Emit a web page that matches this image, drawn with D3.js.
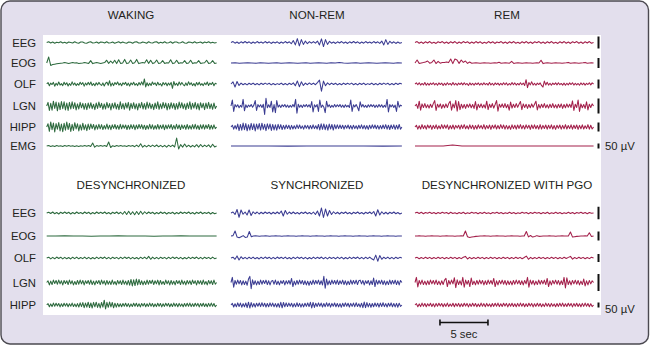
<!DOCTYPE html>
<html>
<head>
<meta charset="utf-8">
<script src="https://cdn.jsdelivr.net/npm/d3@7"></script>
<style>
  html, body { margin: 0; padding: 0; background: #ffffff; }
  svg { display: block; }
  text { font-family: "Liberation Sans", Arial, Helvetica, sans-serif; fill: #231f20; }
</style>
</head>
<body>
<svg id="chart" width="650" height="346"></svg>
<script>
// ---- Recording states (column titles) ----
const topStates = ["WAKING", "NON-REM", "REM"];
const bottomStates = ["DESYNCHRONIZED", "SYNCHRONIZED", "DESYNCHRONIZED WITH PGO"];
const topChannels = ["EEG", "EOG", "OLF", "LGN", "HIPP", "EMG"];
const bottomChannels = ["EEG", "EOG", "OLF", "LGN", "HIPP"];

// Seconds of recording shown in each column
const columnSeconds = [17.7, 17.8, 18.6];
// Calibration marks
const calibrationUV = 50;
const calibrationSec = 5;
const calibrationLabel = "50 \u00b5V";
const timeLabel = "5 sec";

// ---- Traces, in microvolts, evenly sampled across each column ----
// Waking
const wakingEEG = [0,3,-2,2,-3,1,-1,3,-2,1,-3,2,0,-2,3,-1,-3,2,2,-2,-3,1,3,-2,-1,2,-3,2,1,-2,3,-2,-1,2,-3,0,3,-2,2,-1,-3,2,1,-3,2,3,-2,-2,2,0,-3,3,-1,-2,2,3,-3,1,-2,3,-2,-1,3,-3,2,2,-2,-1,3,-2,-3,2,1,-2,3,-2,0,2,-3,2,-1,3,-2,1,-2,0];
const wakingEOG = [0,30,-12,-8,-6,-4,-2,-1,0,2,0,-2,0,2,0,1,-2,-1,0,2,0,-2,12,-3,0,2,0,-2,0,2,14,-2,10,-1,14,-3,16,-2,0,18,-3,0,15,-2,1,18,-3,0,2,0,16,-2,14,-3,1,15,-2,0,12,-2,1,0,16,-3,0,14,-2,1,0,12,-2,0,14,-3,1,0,12,-2,0,1,14,-2,0,12,-2,0];
const wakingOLF = [0,8,-10,5,-3,9,-12,4,-7,11,-6,2,-9,10,-4,7,-11,3,-8,12,-5,6,-9,2,-7,10,-3,8,-12,5,-6,9,-4,11,-8,3,-10,7,-5,9,-2,-8,6,-11,4,10,-7,18,-12,5,-9,8,-3,11,-6,4,-10,7,-2,9,-8,5,-11,6,-4,10,-7,3,-9,8,-5,12,-6,28,-16,7,-10,4,-8,11,-3,6,-9,10,-5,2,-11,8,-4,7,-10,5,-6,9,-24,14,-7,4,-9,11,-5,8,-3,-10,6,-8,12,-4,7,-9,3,-11,8,-5,10,-7,2,-9,6,-4,11,-8,5,-3,9,-10,4,0];
const wakingLGN = [0,12,-15,9,-14,16,-8,13,-16,11,-12,15,-9,14,-13,10,-15,12,-10,14,-8,11,-13,7,-10,12,-6,9,-11,8,-12,10,-7,11,-9,6,-12,10,-8,13,-5,9,-11,7,-10,12,-6,8,-13,9,-7,11,-10,6,-12,14,-9,8,-11,10,-7,12,-14,9,-8,11,-10,7,-13,9,-6,12,-10,8,-11,13,-7,10,-9,6,-12,10,-8,14,-11,7,-9,12,-6,10,-13,8,-10,11,-7,9,-12,8,-10,13,-6,11,-9,7,-12,10,-8,14,-11,9,-7,12,-10,8,-13,11,-6,9,-12,10,-8,12,-9,7,-11,10,-8,0];
const wakingHIPP = [0,18,-24,28,-15,22,-27,19,-12,25,-22,16,-26,21,-18,27,-14,20,-25,15,-19,24,-11,18,-22,13,-17,21,-15,12,-20,16,-13,17,-9,14,-16,11,-12,15,-10,13,-14,8,-11,16,-12,10,-15,12,-8,14,-11,9,-13,15,-10,12,-7,11,-14,10,-12,13,-9,12,-15,11,-10,14,-8,13,-12,10,-14,9,-11,15,-10,12,-13,8,-11,14,-12,10,-9,13,-15,11,-10,12,-8,14,-13,9,-12,15,-10,11,-14,12,-9,10,-13,14,-11,8,-12,13,-10,15,-11,9,-14,12,-10,13,-12,11,-8,14,-13,10,-11,12,-9,0];
const wakingEMG = [0,5,-4,3,-5,4,-3,2,-4,5,-3,4,-2,3,-5,2,-4,3,-2,4,-3,5,-4,30,-12,4,-3,5,-2,4,-5,40,-15,3,-4,5,-2,4,-3,2,-5,4,-3,5,-7,9,-8,22,-12,7,-9,8,-6,9,-7,10,-8,6,-9,7,-11,8,-7,9,-10,80,-30,14,-11,20,-9,8,-10,7,-9,13,-11,15,-8,9,-7,11,-13,17,-9,0];

// Non-REM sleep
const nremEEG = [0,4,-3,2,-4,3,-2,4,-2,3,-4,2,-3,4,-2,2,-3,4,-2,3,-4,2,-2,3,-4,2,-3,4,-2,3,-5,8,-10,16,-14,12,-8,6,-5,4,-3,4,-3,6,-10,15,-17,12,-8,5,-3,2,-4,3,-2,4,-3,2,-4,3,-2,4,-2,3,-4,2,-3,4,-2,2,-3,4,-2,3,-4,6,-10,12,-8,5,-3,3,-4,2,-3,0];
const nremEOG = [0,1,-1,0,1,0,-1,1,0,-1,0,1,-1,0,1,0,-1,0,1,-1,0,1,0,-1,1,0,2,0,-1,0,1,-1,0,1,0,-1,0,1,0,-1,1,0];
const nremOLF = [0,12,-17,14,-8,5,-4,3,-5,4,-3,5,-4,3,-5,4,-3,5,-2,4,-5,3,-4,2,-3,5,-4,3,-5,4,-3,6,-10,17,-15,12,-8,5,-4,6,-3,5,-4,8,22,-40,16,-10,6,-4,5,-3,4,-5,3,-4,5,-3,4,-2,5,-4,3,-5,4,-3,5,-4,2,-3,5,-4,3,-5,4,-3,5,-2,4,-5,3,-4,5,-3,4,0];
const nremLGN = [0,20,-18,5,-3,4,-6,2,-4,22,-16,4,-5,3,-2,5,-4,3,18,-15,5,-3,4,-5,6,-28,26,-6,4,-5,16,-20,5,-22,18,-4,3,-5,4,-2,5,-4,3,-5,2,-4,5,-3,22,-24,6,-4,3,-5,4,-2,5,-3,4,-5,15,-20,4,-3,5,-18,20,-5,3,-4,-22,16,-3,4,-5,2,-4,5,-3,4,-2,5,-4,3,-5,4,-3,2,-5,20,-18,4,-3,5,-4,-16,14,-3,5,-4,2,-5,4,-3,5,-2,4,-5,3,-4,5,-3,4,-5,2,-4,22,-20,5,-3,4,-5,3,-18,16,-4,3,0];
const nremHIPP = [0,10,-12,8,-11,16,-20,14,-18,22,-15,19,-21,13,-17,20,-14,18,-22,16,-12,19,-17,21,-13,15,-20,18,-11,17,-19,14,-16,12,-18,15,-10,13,-14,9,-12,11,-8,10,-13,9,-11,7,-10,12,-8,11,-9,6,-12,10,-7,9,-11,8,-10,12,-9,7,-11,14,-16,18,-13,17,-15,12,-18,16,-11,14,-17,13,-10,12,-9,11,-8,10,-12,9,-7,11,-10,8,-12,10,-9,7,-11,10,-8,12,-10,9,-11,8,-13,10,-9,12,-7,11,-10,9,-12,8,-10,11,-9,13,-12,10,-14,11,-9,12,-13,10,-11,14,-12,0];
const nremEMG = [0,1,0,-1,0,1,0,0,-1,0];

// REM sleep
const remEEG = [0,4,-3,2,-4,3,-2,4,-3,1,-4,3,-1,4,-3,2,-4,3,-2,4,-4,2,-3,4,-1,3,-4,2,-3,4,-2,3,-4,1,-3,4,-2,3,-4,2,-1,4,-3,2,-4,3,-2,4,-3,1,-4,3,-2,4,-3,2,-4,3,-1,4,-3,2,-4,3,-2,4,-3,1,-4,3,-2,4,-3,2,-4,3,-1,4,-3,2,-4,3,-2,4,-3,0];
const remEOG = [0,15,-2,0,2,5,10,-1,3,15,-3,8,-1,2,3,5,2,20,-3,20,15,-2,15,3,10,-2,5,-1,0,1,0,-1,0,1,0,0,-1,0,1,0,4,-1,0,1,0,-1,8,-2,0,1,0,-1,0,1,0,0,-1,0,1,0,14,-3,0,1,0,-1,0,1,0,0,-1,0,1,3,-1,0,1,0,-1,0,1,3,-1,0,1,0];
const remOLF = [0,6,-4,7,-6,3,-5,8,-7,4,-6,5,-3,7,-5,4,-7,6,-3,5,-8,4,-6,7,-4,3,-6,8,-5,4,-7,5,-3,6,-5,7,-4,3,-8,6,-5,4,-7,5,-3,6,-6,4,-5,7,-4,3,-6,8,-5,4,-7,6,-3,5,-6,4,-5,7,-4,6,-7,3,-5,8,-4,6,-6,3,-5,7,-4,5,-8,24,-20,8,-5,12,-6,4,-7,5,-3,6,-8,-17,16,-5,10,-6,4,-7,5,-3,6,-5,7,-4,3,-6,5,-7,4,-5,6,-3,7,-6,4,-5,3,-7,6,-4,5,-6,4,-3,7,-5,6,0];
const remLGN = [0,6,-8,16,-14,7,-5,8,-6,4,-7,6,-5,8,18,-15,6,-4,7,-8,5,-6,7,-5,8,16,-14,7,-6,18,-17,15,-12,6,-7,5,-8,6,-4,7,-6,5,-8,15,-13,6,-5,7,-6,4,-7,16,-12,6,-5,8,-7,5,18,-17,6,-4,7,-5,8,-6,5,-14,13,-7,6,-5,8,-4,6,15,-12,7,-5,6,-8,5,-6,7,-4,6,16,-13,5,-7,6,-5,8,-6,4,-7,6,-5,8,-6,4,-7,6,-5,7,-8,5,-6,7,-4,6,-5,17,-15,6,-5,20,-18,7,-6,5,-8,14,-13,6,-5,7,0];
const remHIPP = [0,10,-12,7,-11,13,-9,8,-12,11,-6,10,-13,9,-8,12,-11,7,-10,13,-9,11,-7,12,-13,8,-10,11,-12,9,-6,10,-12,11,-8,13,-10,7,-11,12,-9,10,-13,8,-11,12,-7,9,-10,13,-12,8,-9,11,-13,10,-7,12,-11,9,-10,13,-8,11,-12,9,-11,7,-13,12,-9,10,-12,11,-8,13,-10,9,-11,12,-7,10,-13,11,-9,12,-10,8,-12,13,-11,9,-8,11,-12,10,-9,12,-11,8,-13,10,-7,11,-12,9,-10,13,-11,8,-9,12,-12,10,-8,11,-13,9,-10,12,-11,7,-9,13,-12,10,-11,0];
const remEMG = [0,0,0,0,10,0,0,0,0,0,0,0,0,0,0,0,0,0,0,0];

// Desynchronized
const desyncEEG = [0,3,-2,4,-3,2,-4,3,-2,4,-2,3,-4,2,-3,4,-2,2,-3,4,-2,3,-4,2,-3,4,-2,3,-2,4,-3,2,-4,3,-2,4,-3,3,-5,6,-6,7,-6,5,-7,6,-6,7,-5,5,-3,4,-2,3,-4,2,-3,4,-2,3,-4,2,-2,3,-4,2,-3,4,-2,3,-2,4,-3,2,-4,3,-2,4,-3,2,-2,3,-4,2,-3,0];
const desyncEOG = [0,0,1,0,0,-1,0,0,1,0,0,0,-1,0,0,1,0,0,0,0];
const desyncOLF = [0,5,-6,4,-5,6,-3,5,-6,4,-5,3,-6,5,-4,6,-5,3,-4,6,-5,4,-6,3,-5,6,-4,5,-3,6,-5,4,-6,5,-3,4,-6,5,-4,6,-3,5,-6,4,-5,3,-6,5,-4,6,-5,10,-8,6,-5,4,-6,5,-3,4,-6,5,-4,6,-3,5,-5,4,-6,3,-5,6,-4,5,-3,6,-5,4,-6,5,-3,4,-5,6,-4,0];
const desyncLGN = [0,5,-7,4,-6,7,-3,6,-5,7,-4,5,-7,6,-3,5,-6,7,-4,5,-7,3,-6,6,-5,7,-4,6,-7,5,-3,6,-5,7,-6,4,-7,5,-3,6,-6,7,-4,5,-7,6,-5,4,-6,7,-5,3,-7,6,-4,5,-6,7,-5,4,-7,6,-8,9,-10,8,-9,10,-7,9,-6,5,-7,4,-6,7,-5,6,-3,7,-6,5,-4,7,-7,6,-5,3,-6,7,-4,5,-7,6,-5,4,-7,6,-3,5,-6,7,-5,4,-7,6,-4,5,-6,7,-3,5,-7,6,-4,5,-6,7,-5,3,-7,6,-4,5,-6,7,-5,0];
const desyncHIPP = [0,14,-18,11,-16,19,-13,17,-10,15,-19,12,-15,18,-11,16,-17,13,-12,19,-15,11,-18,14,-20,22,-16,24,-27,19,-22,28,-25,20,-30,26,-18,28,-24,17,-29,25,-21,48,-40,27,-23,30,-19,25,-28,18,-22,16,-18,13,-17,15,-12,18,-16,14,-19,11,-15,17,-13,18,-16,12,-19,15,-11,16,-18,13,-14,19,-12,15,-17,11,-16,18,-13,15,-19,12,-14,17,-11,16,-18,13,-15,19,-12,14,-17,16,-13,11,-18,15,-14,17,-12,19,-16,13,-15,18,-11,16,-19,14,-13,17,-15,12,-18,16,-14,19,-12,15,-17,0];

// Synchronized
const syncEEG = [0,4,-6,14,-17,12,-5,4,-8,12,-10,5,-3,4,-4,3,-3,4,-2,3,-4,3,-3,4,-3,8,-12,10,-5,4,-3,4,-3,2,-4,3,-2,4,-3,2,-4,4,-6,8,-12,20,-18,16,-12,10,-6,5,-3,3,-4,3,-2,4,-3,2,-4,3,-2,4,-3,2,-4,3,-2,4,-3,6,-12,13,-8,5,-4,3,-4,3,-2,4,-3,2,-4,0];
const syncEOG = [0,2,28,-6,-10,-4,2,-8,-6,25,-4,0,1,0,-1,0,0,1,0,-1,0,0,1,0,0,-1,0,0,1,0,0,0,-1,0,0,1,0,0,0,-1,0,0,1,0,0,0,-1,0,0,1,0,0,0,-1,0,0,1,0,0,0,-1,0,0,1,0,0,0,-1,0,0,1,0,0,0,-1,0,0,1,0,0,0,-1,0,0,0];
const syncOLF = [0,5,-8,13,-12,8,-5,4,-6,5,-4,6,-5,3,-6,5,-4,6,-3,5,-6,4,-5,6,-3,5,-4,6,-5,3,-6,5,-4,6,-3,5,-5,4,-6,3,-5,6,-4,5,-3,6,-5,4,-6,5,-3,4,-5,6,-4,5,-6,3,-5,6,-4,5,-3,6,-5,4,-6,5,-4,6,-5,-12,18,-20,15,-8,5,-4,6,-5,4,-6,5,-3,4,0];
const syncLGN = [0,15,-14,6,-5,7,-4,6,-7,5,-6,4,-8,10,18,-18,8,-6,5,-7,4,-6,7,-5,6,-3,7,-6,5,-7,4,6,-5,7,-6,4,-7,5,-3,6,-7,5,-4,6,-5,12,-12,4,-7,6,-5,7,-4,6,-6,5,-7,4,-8,4,-6,7,-5,6,-4,7,-6,5,-7,18,-17,10,-7,5,-6,7,-4,6,-5,7,-6,5,-4,7,-6,5,-7,4,-6,7,-5,6,-4,7,-6,5,7,-4,6,-7,5,-3,6,-7,5,-6,13,-12,7,-5,6,-4,7,-6,5,-7,4,-6,7,-5,6,-4,7,-6,5,-7,6,0];
const syncHIPP = [0,16,-20,13,-18,21,-15,19,-22,14,-17,20,-26,28,-30,24,-19,15,-21,18,-13,20,-16,22,-14,17,-20,15,-18,21,-12,19,-17,14,-20,16,-22,27,-28,25,-18,21,-15,19,-13,17,-20,14,-18,22,-15,16,-21,13,-19,17,-14,20,-16,27,-29,26,-24,18,-16,21,-13,19,-20,15,-17,22,-14,18,-21,16,-12,20,-18,15,-19,14,-22,17,-15,21,-13,18,-20,16,-14,19,-17,22,-15,13,-21,18,-27,29,-26,24,-19,16,-22,15,-18,20,-14,17,-21,19,-15,22,-16,14,-20,18,-13,21,-17,15,-19,16,-22,18,-14,0];

// Desynchronized with PGO waves
const pgoEEG = [0,3,-2,3,-3,2,-1,3,-2,2,-3,2,-2,3,-1,2,-3,3,-2,1,-3,2,-2,3,-3,1,-2,3,-1,2,-3,2,-2,3,-2,1,-3,2,-1,3,-2,2,-3,1,-2,3,-2,2,-3,1,-2,3,-1,2,-3,2,-2,3,-1,2,-3,2,-2,3,-3,1,-2,3,-2,2,-3,1,-2,3,-2,2,-3,2,-1,3,-2,2,-3,2,-1,0];
const pgoEOG = [0,0,1,0,0,-1,0,0,1,0,0,0,-1,0,0,1,0,0,0,-1,0,0,1,0,28,-4,-8,-6,-4,-2,-1,0,0,1,0,0,-1,0,0,1,0,0,0,-1,0,0,1,0,0,0,-1,0,0,25,-5,3,-6,-3,2,-2,-1,0,0,0,1,0,0,-1,0,0,1,0,0,0,22,-6,-4,-2,-1,0,0,1,0,18,-3,0];
const pgoOLF = [0,4,-5,3,-4,5,-3,4,-5,3,-4,5,-3,4,-5,3,-4,5,-3,4,-5,3,-4,5,10,-6,4,-5,3,-4,5,-3,4,-5,3,-4,5,-3,4,-5,3,-4,5,-3,4,-5,3,-4,5,-3,4,-5,3,12,-8,4,-5,3,-4,5,-3,4,-5,3,-4,5,-3,4,-5,3,-4,5,-3,4,10,-7,3,-4,5,-3,4,-5,3,-4,5,0];
const pgoLGN = [0,15,-13,6,-5,7,-6,4,-7,5,-6,7,-4,6,-5,7,-6,4,-7,5,-6,7,12,-12,6,-5,7,-4,14,-15,8,-6,5,-7,15,-14,7,-5,6,-12,13,-6,4,-7,6,-5,7,-4,6,-7,5,-6,7,-4,6,-5,12,-12,5,-7,6,-4,7,-5,6,-7,5,-6,4,-7,6,-5,7,-4,6,-6,5,-7,6,-4,15,-14,7,-5,6,-7,4,-6,7,-5,6,-4,7,-6,12,-12,5,-7,6,-4,7,-5,6,-7,5,-6,15,-16,14,-6,5,-7,6,-4,7,-5,6,-7,4,-6,10,-10,5,-7,6,-4,5,0];
const pgoHIPP = [0,14,-18,11,-16,19,-12,15,-17,13,-10,18,-15,12,-19,16,-13,17,-11,15,-18,12,-14,19,-16,11,-13,17,-18,14,-12,16,-17,13,-15,18,-11,16,-19,12,-14,17,-13,15,-18,11,-16,19,-12,14,-17,16,-13,11,-18,15,-14,17,-12,19,-16,13,-15,18,-11,16,-19,14,-13,17,-15,12,-18,16,-14,19,-12,15,-17,13,-15,18,-11,16,-19,12,-14,17,-13,15,-18,11,-16,19,-12,14,-17,16,-13,11,-18,15,-14,17,-12,19,-16,13,-15,18,-11,16,-19,14,-13,17,-15,12,-18,16,-14,19,-12,15,-17,13,-16,0];

// ---- Layout ----
const W = 650, H = 346;
const colors = ["#2d6a3e", "#3b3c92", "#a3204b"];
const colX0 = [46.7, 231, 415];   // left edge of each column's traces
const pxPerSec = 9.6;
const titleX = [131, 317, 507];
const labelX = 36;
const barX = 598.5;

const topBase = [42.5, 63, 84, 106, 127, 146];
const topBarLen = [12, 10, 9, 15, 9, 5];
const bottomBase = [213, 236, 258, 282.5, 305];
const bottomBarLen = [12.5, 9, 8, 17, 5];

const topData = [
  [wakingEEG, wakingEOG, wakingOLF, wakingLGN, wakingHIPP, wakingEMG],
  [nremEEG, nremEOG, nremOLF, nremLGN, nremHIPP, nremEMG],
  [remEEG, remEOG, remOLF, remLGN, remHIPP, remEMG]
];
const bottomData = [
  [desyncEEG, desyncEOG, desyncOLF, desyncLGN, desyncHIPP],
  [syncEEG, syncEOG, syncOLF, syncLGN, syncHIPP],
  [pgoEEG, pgoEOG, pgoOLF, pgoLGN, pgoHIPP]
];

const svg = d3.select("#chart");

// frame and white recording area
svg.append("rect")
  .attr("x", 1).attr("y", 1).attr("width", W - 2.5).attr("height", H - 3)
  .attr("rx", 9).attr("ry", 9)
  .attr("fill", "#e3dfed").attr("stroke", "#4b4950").attr("stroke-width", 1.4);
svg.append("rect")
  .attr("x", 43).attr("y", 35).attr("width", 558).attr("height", 280)
  .attr("fill", "#ffffff");

// time scales, one per column
const xScales = columnSeconds.map((s, c) =>
  d3.scaleLinear().domain([0, s]).range([colX0[c], colX0[c] + s * pxPerSec]));

function drawBlock(states, channels, data, bases, barLens, titleY) {
  const g = svg.append("g");
  // column titles
  g.selectAll("text.title").data(states).join("text")
    .attr("class", "title")
    .attr("x", (d, i) => titleX[i]).attr("y", titleY)
    .attr("text-anchor", "middle")
    .attr("font-size", 11.6)
    .text(d => d);
  // channel labels
  g.selectAll("text.chan").data(channels).join("text")
    .attr("class", "chan")
    .attr("x", labelX).attr("y", (d, i) => bases[i])
    .attr("dy", "0.36em")
    .attr("text-anchor", "end")
    .attr("font-size", 11.3)
    .text(d => d);

  // per-channel amplitude scales: the calibration bar spans 50 µV
  const yScales = bases.map((b, r) =>
    d3.scaleLinear().domain([-calibrationUV / 2, calibrationUV / 2])
      .range([b + barLens[r] / 2, b - barLens[r] / 2]));

  data.forEach((colTraces, c) => {
    const x = xScales[c];
    colTraces.forEach((trace, r) => {
      const y = yScales[r];
      const dt = columnSeconds[c] / (trace.length - 1);
      const line = d3.line().x((d, i) => x(i * dt)).y(d => y(d));
      g.append("path")
        .datum(trace)
        .attr("d", line)
        .attr("fill", "none")
        .attr("stroke", colors[c])
        .attr("stroke-width", 1.05)
        .attr("stroke-linejoin", "round");
    });
  });

  // 50 µV calibration bars
  g.selectAll("line.cal").data(bases).join("line")
    .attr("class", "cal")
    .attr("x1", barX).attr("x2", barX)
    .attr("y1", (d, i) => yScales[i](-calibrationUV / 2))
    .attr("y2", (d, i) => yScales[i](calibrationUV / 2))
    .attr("stroke", "#111").attr("stroke-width", 2);

  const last = bases.length - 1;
  g.append("text")
    .attr("x", 605).attr("y", bases[last] + (last === 5 ? 0 : 4))
    .attr("dy", "0.36em")
    .attr("font-size", 11.3)
    .text(calibrationLabel);
}

drawBlock(topStates, topChannels, topData, topBase, topBarLen, 19);
drawBlock(bottomStates, bottomChannels, bottomData, bottomBase, bottomBarLen, 189);

// 5 s time bar
const xT = xScales[2];
const t0 = 2.6;
const tb = svg.append("g");
const tbY = 322.5;
tb.append("line")
  .attr("x1", xT(t0)).attr("x2", xT(t0 + calibrationSec))
  .attr("y1", tbY).attr("y2", tbY)
  .attr("stroke", "#111").attr("stroke-width", 1.6);
[t0, t0 + calibrationSec].forEach(t => {
  tb.append("line")
    .attr("x1", xT(t)).attr("x2", xT(t))
    .attr("y1", tbY - 3).attr("y2", tbY + 3)
    .attr("stroke", "#111").attr("stroke-width", 1.6);
});
tb.append("text")
  .attr("x", xT(t0 + calibrationSec / 2)).attr("y", 333.5)
  .attr("dy", "0.36em")
  .attr("text-anchor", "middle")
  .attr("font-size", 11.3)
  .text(timeLabel);
</script>
</body>
</html>
